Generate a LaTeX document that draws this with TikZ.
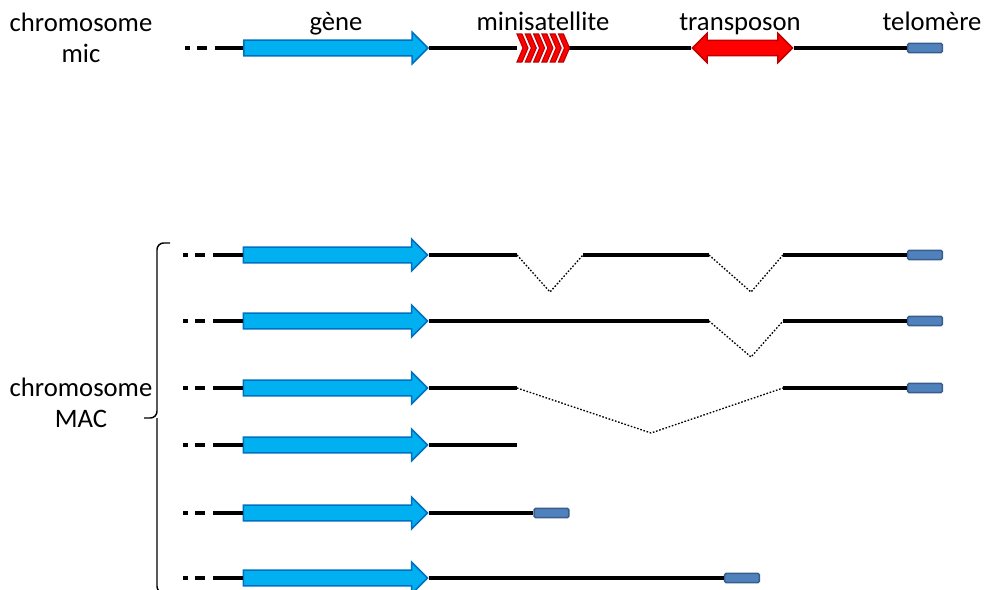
\documentclass[tikz,border=0pt]{standalone}
\usepackage{fontspec}
\setmainfont{Carlito}
\usetikzlibrary{arrows,positioning,shapes.arrows,calc}
\definecolor{genefill}{HTML}{00B0F0}
\definecolor{genedraw}{HTML}{0070C0}
\definecolor{telfill}{HTML}{4F81BD}
\definecolor{teldraw}{HTML}{385D8A}
\definecolor{repfill}{HTML}{FF0000}
\definecolor{repdraw}{HTML}{C00000}
\tikzset{font=\fontsize{20}{23.5}\selectfont}
\tikzstyle{gene}=[single arrow,fill=genefill,draw=genedraw,line width=1.1pt,minimum height=138pt,inner xsep=0pt,inner ysep=5.4pt,single arrow head extend=6pt]
\tikzstyle{transp}=[double arrow,fill=repfill,draw=repdraw,line width=1.1pt,minimum height=75pt,inner xsep=0pt,inner ysep=5.1pt,double arrow head extend=5.25pt]
\tikzstyle{telo}=[rectangle,fill=telfill,draw=teldraw,line width=1.1pt,minimum width=26pt,minimum height=6.8pt,inner sep=0pt,rounded corners=1pt]
\tikzstyle{chrom}=[line width=2.4pt]
\tikzstyle{lead}=[line width=2.4pt,dash pattern=on 3.75pt off 5.25pt on 7.5pt off 6pt on 200pt off 0pt]
\tikzstyle{splice}=[line width=1pt,dash pattern=on 1.2pt off 1.3pt]
\tikzstyle{brace}=[line width=1.1pt,rounded corners=5pt]

\begin{document}
\begin{tikzpicture}[x=0.75pt,y=-0.75pt]
\useasboundingbox (0,0) rectangle (985,589);
\clip (0,0) rectangle (985,589);
\node[align=center] (Mic) at (81,38) {chromosome\\mic};
\node[anchor=base] (Lg) at (336,31) {gène};
\node[anchor=base] (Lm) at (543,31) {minisatellite};
\node[anchor=base] (Lt) at (740,31) {transposon};
\node[anchor=base] (Le) at (932,31) {telomère};
\coordinate (S0) at (185,48);
\node[gene] (G0) at (332,48) {};
\coordinate (M0) at (517,48);
\coordinate (M1) at (569,48);
\node[transp] (T0) at (742.5,48) {};
\node[telo] (E0) at (925,48) {};
\path (S0) edge[lead] (G0.tail)
(G0.tip) edge[chrom] (M0)
(M1) edge[chrom] (T0.west)
(T0.east) edge[chrom] (E0.west);
\foreach \i in {0,...,5}
  \filldraw[fill=repfill,draw=repdraw,line width=0.8pt] ($(M0)+(8.3*\i,-14)$) -- ++(5,0) -- ++(6,14) -- ++(-6,14) -- ++(-5,0) -- ++(6,-14) -- cycle;
\node[align=center] (Mac) at (81,403) {chromosome\\MAC};
\coordinate (K0) at (170,243);
\coordinate (K1) at (157,243);
\coordinate (K2) at (157,418);
\coordinate (K3) at (144,418);
\coordinate (K4) at (157,593);
\coordinate (K5) at (170,593);
\draw[brace] (K0) -- (K1) -- (K2) -- (K3) (K2) -- (K4) -- (K5);
\coordinate (S1) at (183,255);
\coordinate (S2) at (183,321);
\coordinate (S3) at (183,388);
\coordinate (S4) at (183,445);
\coordinate (S5) at (183,513);
\coordinate (S6) at (183,578);
\node[gene] (G1) at (331.5,255) {};
\node[gene] (G2) at (331.5,321) {};
\node[gene] (G3) at (331.5,388) {};
\node[gene] (G4) at (331.5,445) {};
\node[gene] (G5) at (331.5,513) {};
\node[gene] (G6) at (331.5,578) {};
\node[telo] (E1) at (925,255) {};
\node[telo] (E2) at (925,321) {};
\node[telo] (E3) at (925,388) {};
\node[telo] (E5) at (551.5,513) {};
\node[telo] (E6) at (742,578) {};
\coordinate (A1) at (517,255);
\coordinate (B1) at (550,292);
\coordinate (C1) at (583,255);
\coordinate (D1) at (709,255);
\coordinate (F1) at (751,292);
\coordinate (H1) at (783,255);
\coordinate (D2) at (709,321);
\coordinate (F2) at (751,357);
\coordinate (H2) at (783,321);
\coordinate (A3) at (517,388);
\coordinate (B3) at (651,433);
\coordinate (H3) at (783,388);
\coordinate (A4) at (517,445);
\path (S1) edge[lead] (G1.tail)
(S2) edge[lead] (G2.tail)
(S3) edge[lead] (G3.tail)
(S4) edge[lead] (G4.tail)
(S5) edge[lead] (G5.tail)
(S6) edge[lead] (G6.tail)
(G1.tip) edge[chrom] (A1)
(C1) edge[chrom] (D1)
(H1) edge[chrom] (E1.west)
(G2.tip) edge[chrom] (D2)
(H2) edge[chrom] (E2.west)
(G3.tip) edge[chrom] (A3)
(H3) edge[chrom] (E3.west)
(G4.tip) edge[chrom] (A4)
(G5.tip) edge[chrom] (E5.west)
(G6.tip) edge[chrom] (E6.west);
\draw[splice] (A1) -- (B1) -- (C1);
\draw[splice] (D1) -- (F1) -- (H1);
\draw[splice] (D2) -- (F2) -- (H2);
\draw[splice] (A3) -- (B3) -- (H3);
\end{tikzpicture}
\end{document}
